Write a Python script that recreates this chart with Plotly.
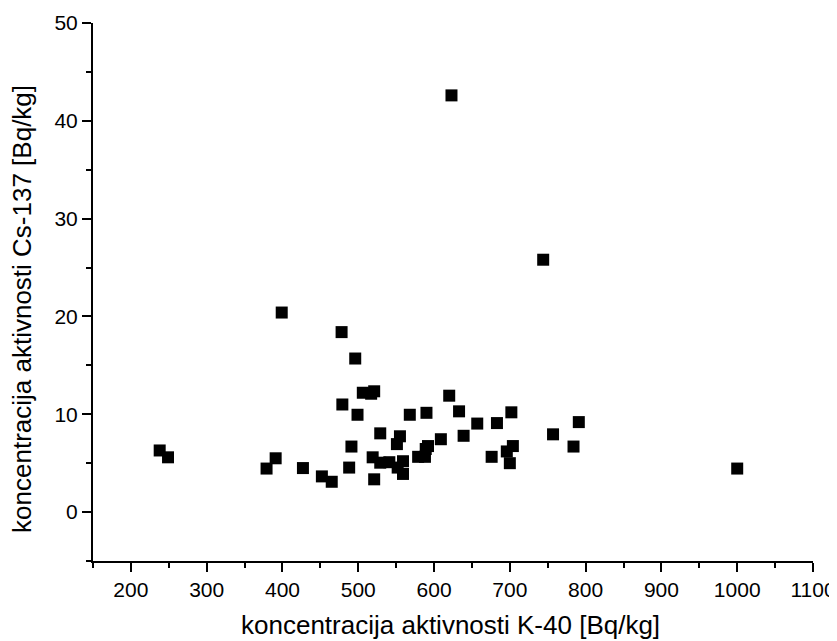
import plotly.graph_objects as go

# K-40 vs Cs-137 activity concentrations (Bq/kg)
k40 = [238, 249, 379, 391, 399, 427, 452, 465, 478, 479,
       488, 491, 496, 499, 506, 517, 521, 519, 521, 529,
       529, 541, 551, 555, 552, 559, 559, 568, 579, 588,
       590, 589, 592, 609, 620, 623, 633, 639, 657, 676,
       683, 696, 700, 702, 704, 744, 757, 784, 791, 1000]
cs137 = [6.3, 5.6, 4.45, 5.5, 20.4, 4.5, 3.65, 3.1, 18.4, 11.0,
         4.55, 6.7, 15.7, 9.95, 12.2, 12.1, 12.35, 5.6, 3.35, 8.05,
         5.05, 5.1, 6.95, 7.75, 4.55, 5.2, 3.9, 9.95, 5.65, 5.65,
         10.15, 6.45, 6.75, 7.45, 11.9, 42.6, 10.3, 7.8, 9.05, 5.65,
         9.1, 6.2, 5.0, 10.2, 6.75, 25.8, 7.95, 6.7, 9.2, 4.45]

x_title = "koncentracija aktivnosti K-40 [Bq/kg]"
y_title = "koncentracija aktivnosti Cs-137 [Bq/kg]"

FONT = "Liberation Sans, Arial, sans-serif"

fig = go.Figure(go.Scatter(
    x=k40, y=cs137, mode="markers",
    marker=dict(symbol="square", size=12, color="black", line=dict(width=0)),
))

axis_common = dict(
    showline=True, linecolor="black", linewidth=2, mirror=False,
    showgrid=False, zeroline=False, automargin=False,
    ticks="outside", ticklen=9, tickwidth=2, tickcolor="black",
    tickfont=dict(family=FONT, size=21, color="black"),
    minor=dict(ticks="outside", ticklen=5, tickwidth=2, tickcolor="black"),
)

fig.update_xaxes(range=[150, 1100], dtick=100, tick0=0, minor_dtick=50, **axis_common)
fig.update_yaxes(range=[-5, 50], dtick=10, tick0=0, minor_dtick=5, **axis_common)

# axis titles as annotations so they sit where the original has them
title_font = dict(family=FONT, size=26, color="black")
fig.add_annotation(text=x_title, xref="paper", yref="paper", x=0.496, y=-0.119,
                   xanchor="center", yanchor="middle", showarrow=False, font=title_font)
fig.add_annotation(text=y_title, xref="paper", yref="paper", x=-0.099, y=0.468,
                   xanchor="center", yanchor="middle", textangle=-90,
                   showarrow=False, font=title_font)

# the page body adds an 8px offset, so the figure is sized and placed to suit
fig.update_layout(
    width=829, height=633,
    margin=dict(l=85, r=24, t=15, b=80),
    plot_bgcolor="white", paper_bgcolor="white",
    showlegend=False,
)

fig.write_html("out.html")
